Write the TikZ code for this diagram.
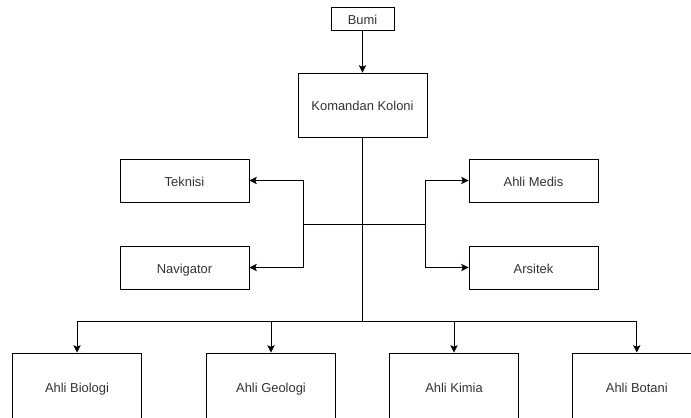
\documentclass[tikz,border=0pt]{standalone}
\usepackage{fontspec}
\setmainfont{Liberation Sans}
\usetikzlibrary{arrows.meta}
\begin{document}
\begin{tikzpicture}[x=0.75pt,y=-0.75pt,
  box/.style={draw=black, line width=0.7pt, inner sep=0pt, fill=white,
    minimum width=96.75pt, text=black!80, text height=8.6pt, text depth=0pt,
    font=\fontsize{9.7pt}{11pt}\selectfont},
  bigbox/.style={box, minimum height=48pt},
  lowbox/.style={box, minimum height=50.25pt},
  smallbox/.style={box, minimum height=32.25pt},
  topbox/.style={box, minimum width=47.25pt, minimum height=17.25pt},
  link/.style={draw=black, line width=0.7pt},
  arr/.style={link, -{Stealth[length=5.5pt, width=5.5pt, inset=1.2pt]}}]
\useasboundingbox (0,0) rectangle (691,417);
\clip (0,0) rectangle (691,417);
\fill[white] (0,0) rectangle (691,417);

\node[topbox] (bumi) at (362.5,18.5) {Bumi};
\node[bigbox] (kk) at (362.5,105) {Komandan Koloni};
\node[smallbox] (tek) at (184.5,180.5) {Teknisi};
\node[smallbox] (nav) at (184.5,267.5) {Navigator};
\node[smallbox] (med) at (533.5,180.5) {Ahli Medis};
\node[smallbox] (ars) at (533.5,267.5) {Arsitek};
\node[lowbox] (bio) at (77,386.5) {Ahli Biologi};
\node[lowbox] (geo) at (271,386.5) {Ahli Geologi};
\node[lowbox] (kim) at (454,386.5) {Ahli Kimia};
\node[lowbox] (bot) at (636.8,386.5) {Ahli Botani};

\coordinate (mid) at (362.5,224.3);
\coordinate (lb) at (303.3,224.3);
\coordinate (rb) at (425.5,224.3);
\coordinate (bj) at (362.5,321);

\draw[arr] (bumi.south) -- (kk.north);
\draw[link] (kk.south) -- (bj);
\draw[link] (lb) -- (rb);
\draw[arr] (lb) |- (tek.east);
\draw[arr] (lb) |- (nav.east);
\draw[arr] (rb) |- (med.west);
\draw[arr] (rb) |- (ars.west);
\draw[arr] (bj) -| (bio.north);
\draw[arr] (bj) -| (geo.north);
\draw[arr] (bj) -| (kim.north);
\draw[arr] (bj) -| (bot.north);
\end{tikzpicture}
\end{document}
